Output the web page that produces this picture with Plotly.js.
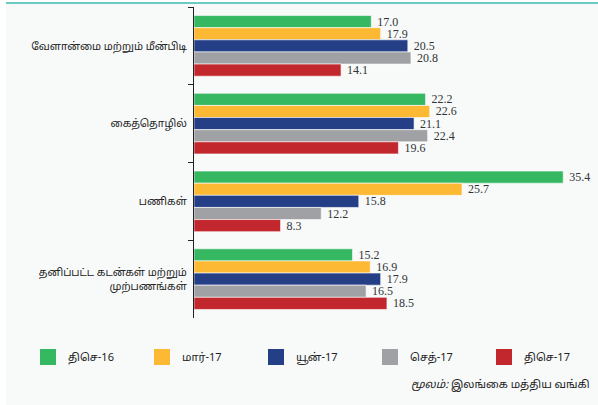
<!DOCTYPE html>
<html>
<head>
<meta charset="utf-8">
<script src="https://cdn.plot.ly/plotly-3.0.1.min.js"></script>
<style>
  html, body { margin:0; padding:0; background:#ffffff; }
  #wrap { position:relative; width:598px; height:405px; overflow:hidden; }
  #panel { position:absolute; left:6px; top:2px; right:0; bottom:0; background:#f8fafa; border-top:2px solid #6ccac6; }
  #chart { position:absolute; left:0; top:0; width:598px; height:405px; }
</style>
</head>
<body>
<div id="wrap"><div id="panel"></div><div id="chart"></div></div>
<script>
const categories = [
  "வேளான்மை மற்றும் மீன்பிடி",
  "கைத்தொழில்",
  "பணிகள்",
  "தனிப்பட்ட கடன்கள் மற்றும்<br>முற்பணங்கள்"
];
const seriesNames = ["திசெ-16", "மார்-17", "யூன்-17", "செத்-17", "திசெ-17"];
const dec16 = [17.0, 22.2, 35.4, 15.2];
const mar17 = [17.9, 22.6, 25.7, 16.9];
const jun17 = [20.5, 21.1, 15.8, 17.9];
const sep17 = [20.8, 22.4, 12.2, 16.5];
const dec17 = [14.1, 19.6, 8.3, 18.5];
const colors = ["#36b862", "#fdb933", "#253f87", "#a0a1a4", "#c1272d"];

const serif = "'Liberation Serif', 'Times New Roman', serif";
const tamil = "'Noto Sans Tamil', 'Lohit Tamil', 'Noto Sans', sans-serif";

const values = [dec16, mar17, jun17, sep17, dec17];
const traces = values.map((v, i) => ({
  type: "bar",
  orientation: "h",
  name: seriesNames[i],
  legendgroup: "g" + i,
  showlegend: false,
  y: categories,
  x: v,
  text: v.map(n => "\u00a0" + n.toFixed(1)),
  textposition: "outside",
  constraintext: "none",
  textfont: { family: serif, size: 12, color: "#333333" },
  cliponaxis: false,
  marker: { color: colors[i], line: { color: "#ffffff", width: 0.6 } },
  hoverinfo: "x+name"
}));
// legend-only entries with square swatches
seriesNames.forEach((nm, i) => traces.push({
  type: "scatter", mode: "markers",
  name: nm, legendgroup: "g" + i, showlegend: true,
  x: [null], y: [null],
  marker: { symbol: "square", size: 16, color: colors[i], line: { width: 0 } },
  hoverinfo: "skip"
}));

const W = 598, L = 194, R = 10, T = 7, B = 87;
const pw = W - L - R, ph = 405 - T - B;
const px = x => (x - L) / pw;
const py = y => (405 - B - y) / ph;

const layout = {
  width: 598, height: 405,
  margin: { l: L, r: R, t: T, b: B, pad: 0 },
  paper_bgcolor: "rgba(0,0,0,0)",
  plot_bgcolor: "rgba(0,0,0,0)",
  barmode: "group",
  bargap: 0.22,
  bargroupgap: 0,
  font: { family: tamil, size: 10.5, color: "#222222" },
  xaxis: {
    range: [0, pw / 10.43],
    visible: false,
    showgrid: false, zeroline: false
  },
  yaxis: {
    type: "category",
    categoryarray: categories, categoryorder: "array",
    autorange: "reversed",
    showline: true, linecolor: "#222222", linewidth: 1,
    ticks: "outside", ticklen: 5, tickcolor: "#222222",
    tickson: "boundaries",
    ticklabelstandoff: 4,
    showgrid: false, zeroline: false,
    tickfont: { family: tamil, size: 10.5, color: "#222222" }
  },
  showlegend: true,
  legend: {
    orientation: "h",
    x: px(28.5), y: py(357), xanchor: "left", yanchor: "middle",
    entrywidth: 69, entrywidthmode: "pixels",
    font: { family: tamil, size: 11, color: "#222222" },
    bgcolor: "rgba(0,0,0,0)",
    traceorder: "normal"
  },
  annotations: [{
    xref: "paper", yref: "paper",
    x: px(592), y: py(385), xanchor: "right", yanchor: "middle",
    showarrow: false,
    text: "<i>மூலம்:</i> இலங்கை மத்திய வங்கி",
    font: { family: tamil, size: 11, color: "#222222" }
  }]
};

Plotly.newPlot("chart", traces, layout, { displayModeBar: false, staticPlot: true });
</script>
</body>
</html>
